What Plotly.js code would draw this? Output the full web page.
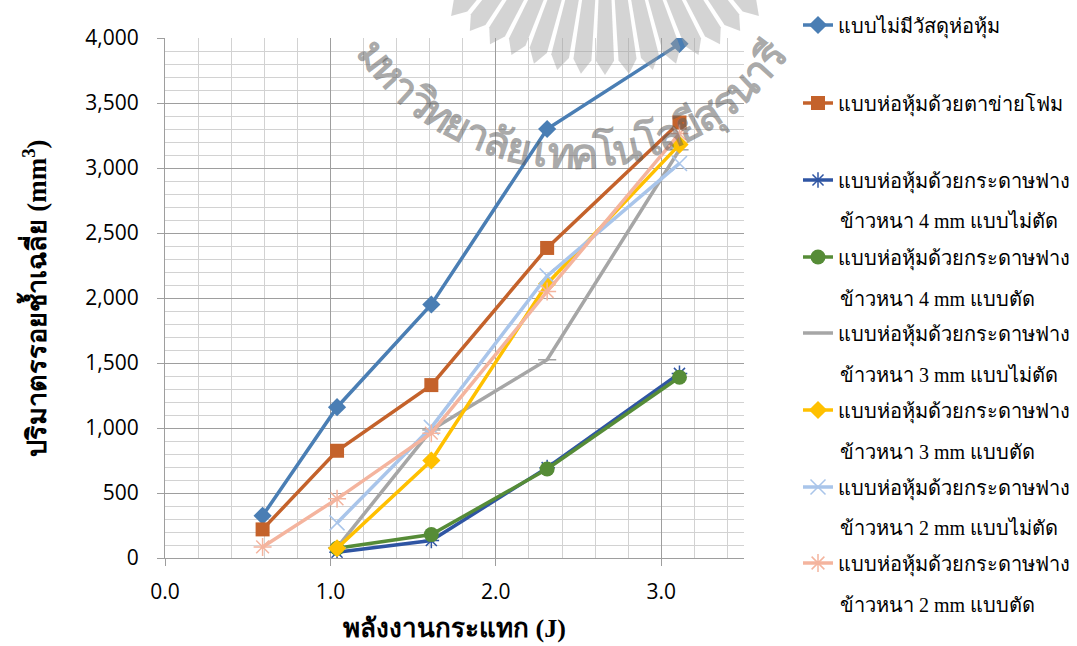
<!DOCTYPE html>
<html>
<head>
<meta charset="utf-8">
<script src="https://cdn.plot.ly/plotly-3.0.1.min.js"></script>
<style>html,body{margin:0;padding:0;background:#fff;}#chart{width:1077px;height:646px;}</style>
</head>
<body>
<div id="chart"></div>
<script>
// ---- data ----
const energyJ = [0.59, 1.04, 1.61, 2.31, 3.11];
const seriesNames = [
  "แบบไม่มีวัสดุห่อหุ้ม",
  "แบบห่อหุ้มด้วยตาข่ายโฟม",
  "แบบห่อหุ้มด้วยกระดาษฟาง",
  "แบบห่อหุ้มด้วยกระดาษฟาง",
  "แบบห่อหุ้มด้วยกระดาษฟาง",
  "แบบห่อหุ้มด้วยกระดาษฟาง",
  "แบบห่อหุ้มด้วยกระดาษฟาง",
  "แบบห่อหุ้มด้วยกระดาษฟาง"
];
const seriesSubNames = [
  "",
  "",
  "ข้าวหนา 4 mm แบบไม่ตัด",
  "ข้าวหนา 4 mm แบบตัด",
  "ข้าวหนา 3 mm แบบไม่ตัด",
  "ข้าวหนา 3 mm แบบตัด",
  "ข้าวหนา 2 mm แบบไม่ตัด",
  "ข้าวหนา 2 mm แบบตัด"
];
const noWrap     = [325, 1160, 1950, 3300, 3955];
const foamNet    = [220, 825, 1330, 2385, 3350];
const straw4Full = [null, 45, 135, 695, 1420];
const straw4Cut  = [null, 75, 180, 685, 1390];
const straw3Full = [null, 80, 985, 1525, 3140];
const straw3Cut  = [null, 75, 750, 2110, 3180];
const straw2Full = [null, 270, 1005, 2170, 3035];
const straw2Cut  = [85, 455, 960, 2050, 3265];
const yTickVals  = [0, 500, 1000, 1500, 2000, 2500, 3000, 3500, 4000];
const xTickVals  = [0, 1, 2, 3];

// ---- styles ----
const seriesValues = [noWrap, foamNet, straw4Full, straw4Cut, straw3Full, straw3Cut, straw2Full, straw2Cut];
const colors  = ["#4a7eb4", "#c4622b", "#2f55a3", "#568c37", "#a6a6a6", "#ffc000", "#a9c5ea", "#f4b49e"];
const symbols = ["diamond", "square", "asterisk-open", "circle", "line-ew-open", "diamond", "x-thin-open", "asterisk-open"];
const msizes  = [14, 14, 13, 15, 13, 14, 15, 15];
const legendKeys = ["legend", "legend2", "legend3", "legend4", "legend5", "legend6", "legend7", "legend8"];

const traces = seriesValues.map((vals, i) => ({
  type: "scatter",
  mode: "lines+markers",
  x: energyJ,
  y: vals,
  name: seriesNames[i],
  legend: legendKeys[i],
  connectgaps: false,
  line: {color: colors[i], width: 3.5},
  marker: {symbol: symbols[i], size: msizes[i], color: colors[i],
           line: {color: colors[i], width: (symbols[i].indexOf("open") >= 0) ? 1.5 : 0}}
}));

// plot area in pixels
const L = 165, T = 38, W = 579, H = 520;
const px = x => (x - L) / W;
const py = y => (T + H - y) / H;

// legend line-1 centres and line-2 centres (pixels)
const legY = [25, 103, 180, 257, 333, 410, 487, 563];
const subY = [0, 0, 221, 299, 375, 452, 528, 605];

const annotations = [];
seriesSubNames.forEach((s, i) => {
  if (!s) return;
  annotations.push({xref: "paper", yref: "paper", x: px(838), y: py(subY[i]),
    xanchor: "left", yanchor: "middle", showarrow: false, text: s,
    font: {family: "Liberation Serif, serif", size: 20, color: "#000"}});
});

// watermark arc text
const wmClusters = ["ม","ห","า","วิ","ท","ย","า","ลั","ย","เ","ท","ค","โ","น","โ","ล","ยี","สุ","ร","น","า","รี"];
const cx = 573, cy = -94, R = 246;
const a0 = -53, a1 = 53;
wmClusters.forEach((c, k) => {
  const th = a0 + (a1 - a0) * k / (wmClusters.length - 1);
  const r = th * Math.PI / 180;
  const xx = cx + R * Math.sin(r), yy = cy + R * Math.cos(r);
  annotations.push({xref: "paper", yref: "paper", x: px(xx), y: py(yy),
    xanchor: "center", yanchor: "middle", showarrow: false, text: c, textangle: -th,
    font: {family: "Noto Sans, DejaVu Sans, sans-serif", size: 42, weight: "bold", color: "rgba(95,95,95,0.55)"}});
});

// watermark sunburst logo
const shapes = [];
const lcx = 605, lcy = -155, r1 = 140, r2 = 230;
for (let a = -48; a <= 48; a += 6) {
  const aa = [a - 2.4, a, a + 2.4].map(d => d * Math.PI / 180);
  const p = (ang, rad) => [px(lcx + rad * Math.sin(ang)), py(lcy + rad * Math.cos(ang))];
  const p1 = p(aa[0], r1), p2 = p(aa[0], r2 - 14), p3 = p(aa[1], r2), p4 = p(aa[2], r2 - 14), p5 = p(aa[2], r1);
  shapes.push({type: "path", xref: "paper", yref: "paper", layer: "above",
    path: `M${p1[0]},${p1[1]} L${p2[0]},${p2[1]} L${p3[0]},${p3[1]} L${p4[0]},${p4[1]} L${p5[0]},${p5[1]} Z`,
    fillcolor: "rgba(160,160,160,0.45)", line: {width: 0}});
}

const layout = {
  width: 1077, height: 646,
  margin: {l: L, r: 1077 - L - W, t: T, b: 646 - T - H},
  paper_bgcolor: "#fff", plot_bgcolor: "#fff",
  showlegend: true,
  xaxis: {
    range: [0, 3.5], tickvals: xTickVals, tickformat: ".1f",
    showgrid: true, gridcolor: "#9e9e9e", gridwidth: 1,
    minor: {dtick: 0.2, showgrid: true, gridcolor: "#d2d2d2", gridwidth: 1, ticks: ""},
    showline: true, linecolor: "#9e9e9e", zeroline: false,
    ticks: "outside", ticklen: 7, tickcolor: "#9e9e9e",
    ticklabelstandoff: 8,
    tickfont: {family: "Open Sans, sans-serif", size: 21, color: "#000"},
    title: {text: "พลังงานกระแทก (J)", standoff: 14,
      font: {family: "Liberation Serif, serif", size: 26, color: "#000", weight: "bold"}}
  },
  yaxis: {
    range: [0, 4000], tickvals: yTickVals, tickformat: ",",
    showgrid: true, gridcolor: "#9e9e9e", gridwidth: 1,
    minor: {dtick: 100, showgrid: true, gridcolor: "#d2d2d2", gridwidth: 1, ticks: ""},
    showline: true, linecolor: "#9e9e9e", zeroline: false,
    ticks: "outside", ticklen: 7, tickcolor: "#9e9e9e",
    ticklabelstandoff: 14,
    tickfont: {family: "Open Sans, sans-serif", size: 21, color: "#000"},
    title: {text: "ปริมาตรรอยช้ำเฉลี่ย (mm<sup>3</sup>)", standoff: 30,
      font: {family: "Liberation Serif, serif", size: 27, color: "#000", weight: "bold"}}
  },
  annotations: annotations,
  shapes: shapes
};

legendKeys.forEach((k, i) => {
  layout[k] = {
    xref: "container", yref: "container", x: 798 / 1077, y: 1 - legY[i] / 646,
    xanchor: "left", yanchor: "middle", valign: "middle",
    font: {family: "Liberation Serif, serif", size: 20, color: "#000"},
    bgcolor: "rgba(0,0,0,0)", borderwidth: 0
  };
});

Plotly.newPlot("chart", traces, layout, {displayModeBar: false, staticPlot: true});
</script>
</body>
</html>
